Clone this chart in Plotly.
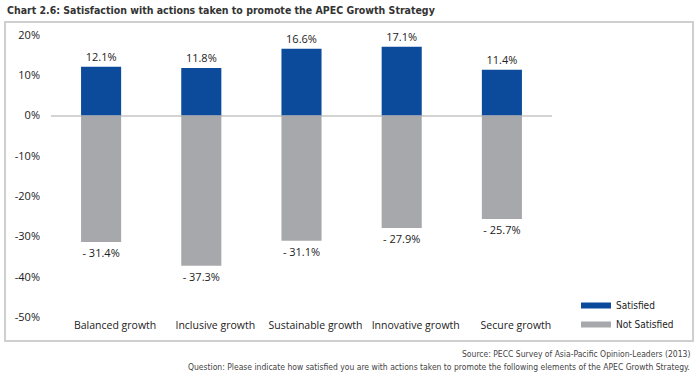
import plotly.graph_objects as go

categories = ["Balanced growth", "Inclusive growth", "Sustainable growth", "Innovative growth", "Secure growth"]
satisfied = [12.1, 11.8, 16.6, 17.1, 11.4]
not_satisfied = [-31.4, -37.3, -31.1, -27.9, -25.7]
tick_vals = [20, 10, 0, -10, -20, -30, -40, -50]
tick_text = ["20%", "10%", "0%", "-10%", "-20%", "-30%", "-40%", "-50%"]

BLUE = "#0c4a9c"
GRAY = "#a7a8ab"
FONT = "Open Sans, Noto Sans, sans-serif"
NARROW = "DejaVu Sans Condensed, Liberation Sans Narrow, sans-serif"

W, H = 700, 377
L, R, T, B = 51, 148, 35, 60
pw, ph = W - L - R, H - T - B

def px(x):
    return (x - L) / pw

def py(y):
    return (H - B - y) / ph

fig = go.Figure()
fig.add_bar(x=categories, y=satisfied, marker=dict(color=BLUE, line=dict(width=0)),
            width=0.4, text=[f"{v}%" for v in satisfied], textposition="outside",
            textfont=dict(size=11, color="#222", family=FONT), cliponaxis=False,
            showlegend=False, name="Satisfied")
fig.add_bar(x=categories, y=not_satisfied, marker=dict(color=GRAY, line=dict(width=0)),
            width=0.4, text=[f"- {abs(v)}%" for v in not_satisfied], textposition="outside",
            textfont=dict(size=11, color="#222", family=FONT), cliponaxis=False,
            showlegend=False, name="Not Satisfied")
fig.add_scatter(x=[None], y=[None], mode="lines", line=dict(color=BLUE, width=6), name="Satisfied")
fig.add_scatter(x=[None], y=[None], mode="lines", line=dict(color=GRAY, width=6), name="Not Satisfied")

fig.update_layout(
    width=W, height=H,
    margin=dict(l=L, r=R, t=T, b=B, pad=0),
    paper_bgcolor="white", plot_bgcolor="white",
    barmode="overlay",
    font=dict(family=FONT, size=11, color="#222"),
    legend=dict(x=px(576), y=py(291), xanchor="left", yanchor="top",
                font=dict(family=NARROW, size=10, color="#222"),
                tracegroupgap=0, itemwidth=30, bgcolor="rgba(0,0,0,0)"),
    xaxis=dict(showgrid=False, showline=False, ticks="", tickfont=dict(size=10.5, color="#222"),
               ticklabelshift=14, fixedrange=True),
    yaxis=dict(range=[-50, 20], tickvals=tick_vals, ticktext=tick_text, showgrid=False,
               zeroline=True, zerolinecolor="#d4d4d4", zerolinewidth=2,
               showline=False, ticks="", ticklabelstandoff=10,
               tickfont=dict(size=11, color="#222")),
    shapes=[dict(type="rect", xref="paper", yref="paper",
                 x0=px(5), x1=px(693), y0=py(341), y1=py(22),
                 line=dict(color="#cfcfcf", width=2), layer="below")],
    annotations=[
        dict(text="Chart 2.6: Satisfaction with actions taken to promote the APEC Growth Strategy",
             xref="paper", yref="paper", x=px(5), y=py(10), xanchor="left", yanchor="middle",
             showarrow=False, font=dict(family=NARROW, size=10.5, color="#333", weight="bold")),
        dict(text="Source: PECC Survey of Asia-Pacific Opinion-Leaders (2013)",
             xref="paper", yref="paper", x=px(692), y=py(354), xanchor="right", yanchor="middle",
             showarrow=False, font=dict(family=NARROW, size=8.5, color="#444")),
        dict(text="Question: Please indicate how satisfied you are with actions taken to promote the following elements of the APEC Growth Strategy.",
             xref="paper", yref="paper", x=px(692), y=py(367), xanchor="right", yanchor="middle",
             showarrow=False, font=dict(family=NARROW, size=8.5, color="#444")),
    ],
)

post = "document.body.style.margin='0';document.body.style.overflow='hidden';"

fig.write_html("out.html", post_script=post, config={"displayModeBar": False})
